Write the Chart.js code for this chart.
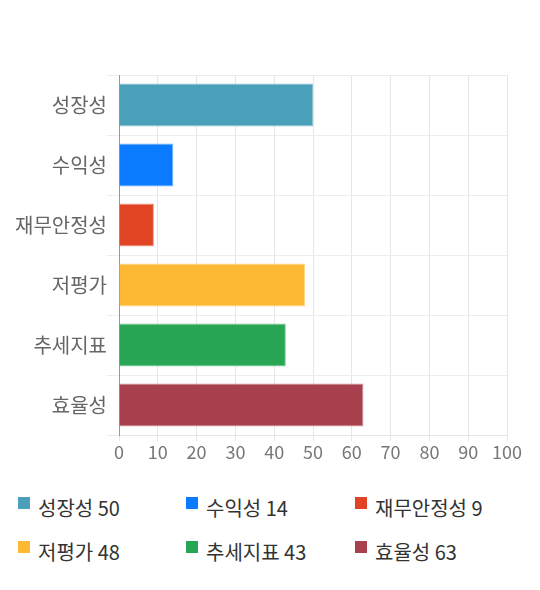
<!DOCTYPE html>
<html>
<head>
<meta charset="utf-8">
<script src="https://cdn.jsdelivr.net/npm/chart.js@4/dist/chart.umd.min.js"></script>
<style>
    body { margin: 0; background: #fff; font-family: "Noto Sans CJK KR", "Noto Sans", sans-serif; }
    #wrap { position: relative; width: 540px; height: 470px; }
    #legend { width: 540px; height: 120px; padding: 26px 0 0 18px; box-sizing: border-box; }
    .item { display: inline-block; vertical-align: top; font-size: 20px; color: #333; line-height: 24px; height: 44px; white-space: nowrap; }
    .box { display: inline-block; vertical-align: top; margin-top: 1px; width: 12px; height: 12px; margin-right: 8px; }
</style>
</head>
<body>
<div id="wrap"><canvas id="chart"></canvas></div>
<div id="legend"></div>
<script>
"use strict";

// Chart data:
var categories = ["성장성", "수익성", "재무안정성", "저평가", "추세지표", "효율성"];
var scores = [50, 14, 9, 48, 43, 63];
var xTicks = [0, 10, 20, 30, 40, 50, 60, 70, 80, 90, 100];
var barColors = ["#4aa0b9", "#0a7bff", "#e14425", "#fdb933", "#28a655", "#a8404e"];
var barBorders = ["#8cc4d4", "#6cb0ff", "#ee9a88", "#fed488", "#7fcb9b", "#cc8e96"];

var ctx = document.getElementById('chart').getContext('2d');

var chart = new Chart(ctx, {
    type: 'bar',
    data: {
        labels: categories,
        datasets: [{
            data: scores,
            backgroundColor: barColors,
            borderColor: barBorders,
            borderWidth: 1
        }]
    },
    options: {
        indexAxis: 'y',
        responsive: true,
        maintainAspectRatio: false,
        animation: false,
        layout: { padding: { top: 75, right: 33, left: 0, bottom: 0 } },
        plugins: { legend: { display: false }, tooltip: { enabled: false } },
        scales: {
            x: {
                min: xTicks[0],
                max: xTicks[xTicks.length - 1],
                afterBuildTicks: function (scale) {
                    scale.ticks = xTicks.map(function (v) { return { value: v }; });
                },
                grid: { color: '#e6e6e6', tickLength: 6 },
                border: { color: '#e6e6e6' },
                ticks: { color: '#777', font: { size: 18, family: "Noto Sans CJK KR" }, padding: 0, maxRotation: 0 },
                afterFit: function (scale) { scale.height = 35; }
            },
            y: {
                grid: { color: '#ececec', tickLength: 12, offset: true },
                border: { color: '#999' },
                ticks: { color: '#666', font: { size: 20, family: "Noto Sans CJK KR" }, padding: 0 },
                afterFit: function (scale) { scale.width = 119; }
            }
        }
    }
});

// Custom legend below the chart:
var legend = document.getElementById('legend');
var colWidth = [168, 169, 180];
categories.forEach(function (name, i) {
    var item = document.createElement('div');
    item.className = 'item';
    item.style.width = colWidth[i % 3] + 'px';
    var box = document.createElement('span');
    box.className = 'box';
    box.style.background = barColors[i];
    var txt = document.createElement('span');
    txt.textContent = name + " " + scores[i];
    item.appendChild(box);
    item.appendChild(txt);
    legend.appendChild(item);
});
</script>
</body>
</html>
